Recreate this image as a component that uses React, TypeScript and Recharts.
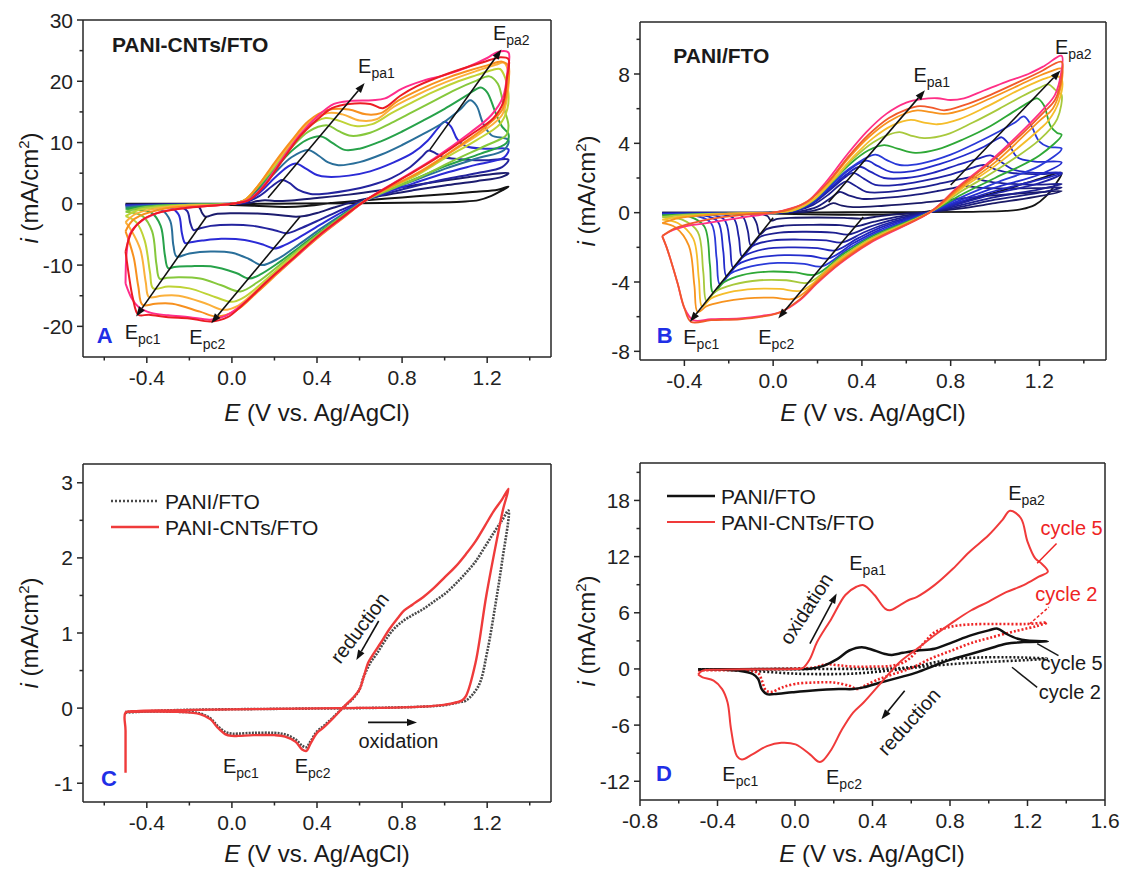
import React from 'react';
import { LineChart, Line, XAxis, YAxis, ReferenceLine, ReferenceDot } from 'recharts';

type P = [number, number];

const FONT = "'Liberation Sans', Arial, Helvetica, sans-serif";
const AXIS = '#262626';
const BLUE = '#1f2fe6';

// ---------------- Panel A : PANI-CNTs/FTO, successive cycles ----------------
const aCycle1: P[] = [
  [-0.5, 0], [-0.2, 0], [0, 0], [0.3, 0.05], [0.6, 0.1], [0.9, 0.2], [1.08, 0.35], [1.16, 0.6], [1.22, 1.3], [1.27, 2.2], [1.3, 2.8],
  [1.25, 2.3], [1.15, 1.95], [1.0, 1.55], [0.8, 1.05], [0.6, 0.5], [0.45, 0.05], [0.35, -0.35], [0.25, -0.5], [0.1, -0.3], [-0.1, -0.1], [-0.3, -0.02], [-0.5, 0],
];
const aCycle2: P[] = [
  [-0.5, -0.1], [-0.3, -0.05], [0, 0], [0.08, 0.15], [0.12, 0.45], [0.155, 0.6], [0.2, 0.45], [0.28, 0.55], [0.4, 0.95], [0.55, 1.5], [0.7, 2.2], [0.85, 3.0], [1.0, 3.8], [1.1, 4.3], [1.2, 4.75], [1.3, 5.0],
  [1.27, 4.4], [1.15, 3.7], [1.0, 3.0], [0.85, 2.2], [0.7, 1.3], [0.58, 0.4], [0.48, -0.6], [0.4, -1.5], [0.34, -2.0], [0.3, -2.1], [0.24, -1.9], [0.12, -1.6], [0, -1.55], [-0.08, -1.7], [-0.125, -2.1], [-0.14, -1.5], [-0.155, -0.5], [-0.2, -0.15], [-0.35, -0.1], [-0.5, -0.1],
];
const aCycle3: P[] = [
  [-0.5, -0.2], [-0.3, -0.1], [0, 0], [0.07, 0.3], [0.13, 1.3], [0.19, 2.9], [0.235, 3.9], [0.27, 3.4], [0.31, 2.3], [0.37, 1.6], [0.45, 1.7], [0.55, 2.2], [0.65, 3.0], [0.75, 4.2], [0.83, 5.8], [0.89, 7.6], [0.925, 8.7], [0.96, 8.2], [1.0, 7.6], [1.1, 7.2], [1.2, 7.1], [1.3, 7.2],
  [1.27, 6.0], [1.15, 5.0], [1.0, 4.0], [0.85, 2.8], [0.72, 1.6], [0.63, 0.6], [0.52, -0.9], [0.42, -2.5], [0.33, -3.9], [0.26, -4.8], [0.2, -4.3], [0.1, -3.6], [0, -3.4], [-0.1, -3.6], [-0.16, -4.1], [-0.18, -4.3], [-0.195, -3.2], [-0.21, -1.2], [-0.25, -0.4], [-0.35, -0.25], [-0.5, -0.2],
];
const aCycle4: P[] = [
  [-0.5, -0.3], [-0.3, -0.15], [0, 0], [0.07, 0.4], [0.13, 1.8], [0.2, 4.2], [0.26, 6.0], [0.3, 6.6], [0.35, 5.7], [0.4, 4.7], [0.45, 4.4], [0.55, 4.6], [0.65, 5.3], [0.75, 6.6], [0.85, 8.3], [0.92, 10.3], [0.97, 12.4], [1.0, 13.4], [1.03, 12.6], [1.06, 10.5], [1.1, 9.4], [1.2, 9.0], [1.3, 8.9],
  [1.28, 7.6], [1.15, 6.4], [1.0, 5.0], [0.85, 3.3], [0.72, 1.8], [0.63, 0.6], [0.52, -1.3], [0.42, -3.3], [0.32, -5.4], [0.25, -6.7], [0.2, -7.3], [0.15, -6.7], [0.06, -5.9], [-0.05, -5.7], [-0.14, -6.0], [-0.2, -6.3], [-0.22, -6.4], [-0.235, -4.8], [-0.25, -1.8], [-0.29, -0.6], [-0.38, -0.35], [-0.5, -0.3],
];
const aCycle5: P[] = [
  [-0.5, -0.5], [-0.35, -0.25], [0, 0], [0.06, 0.5], [0.12, 2.2], [0.2, 5.0], [0.28, 7.6], [0.358, 8.8], [0.41, 7.8], [0.45, 6.8], [0.5, 6.3], [0.6, 6.8], [0.7, 8.0], [0.8, 9.6], [0.9, 11.4], [1.0, 13.4], [1.07, 15.3], [1.12, 16.9], [1.15, 16.0], [1.18, 13.2], [1.22, 11.2], [1.3, 10.4],
  [1.28, 8.8], [1.15, 7.4], [1.0, 5.7], [0.85, 3.7], [0.72, 2.0], [0.63, 0.6], [0.52, -1.7], [0.42, -4.0], [0.32, -6.5], [0.22, -8.9], [0.14, -10.0], [0.08, -9.0], [0, -8.0], [-0.1, -7.8], [-0.2, -8.1], [-0.26, -8.6], [-0.275, -6.8], [-0.29, -2.8], [-0.33, -1.0], [-0.42, -0.6], [-0.5, -0.5],
];
const aCycle6: P[] = [
  [-0.5, -0.8], [-0.38, -0.35], [-0.1, -0.05], [0, 0], [0.06, 0.6], [0.12, 2.5], [0.2, 5.6], [0.28, 8.6], [0.35, 10.4], [0.42, 11.0], [0.47, 10.0], [0.53, 8.8], [0.6, 9.0], [0.7, 10.2], [0.8, 11.8], [0.9, 13.6], [1.0, 15.5], [1.1, 17.6], [1.17, 19.0], [1.2, 18.2], [1.24, 14.8], [1.27, 12.6], [1.3, 11.4],
  [1.29, 9.9], [1.17, 8.2], [1.0, 6.1], [0.85, 3.9], [0.72, 2.1], [0.63, 0.6], [0.52, -1.9], [0.42, -4.4], [0.32, -7.0], [0.22, -9.6], [0.13, -11.6], [0.08, -12.2], [0.02, -11.3], [-0.1, -10.2], [-0.2, -10.2], [-0.27, -10.3], [-0.3, -10.5], [-0.315, -8.4], [-0.335, -3.6], [-0.38, -1.4], [-0.45, -0.95], [-0.5, -0.8],
];
const aCycle7: P[] = [
  [-0.5, -1.3], [-0.42, -0.6], [-0.2, -0.15], [0, 0], [0.06, 0.6], [0.12, 2.7], [0.2, 5.9], [0.28, 9.2], [0.36, 11.8], [0.45, 12.8], [0.5, 11.9], [0.56, 11.1], [0.65, 11.6], [0.75, 13.2], [0.85, 15.0], [0.95, 16.8], [1.05, 18.6], [1.15, 20.1], [1.21, 20.8], [1.25, 19.6], [1.28, 15.5], [1.3, 12.8],
  [1.29, 11.2], [1.2, 9.6], [1.05, 7.2], [0.88, 4.3], [0.75, 2.4], [0.63, 0.6], [0.52, -2.0], [0.42, -4.6], [0.32, -7.3], [0.22, -10.1], [0.12, -12.8], [0.04, -14.3], [-0.05, -13.3], [-0.15, -12.2], [-0.25, -12.0], [-0.31, -12.1], [-0.34, -12.2], [-0.355, -9.8], [-0.375, -4.5], [-0.42, -2.0], [-0.5, -1.3],
];
const aCycle8: P[] = [
  [-0.5, -2.0], [-0.44, -1.0], [-0.25, -0.3], [0, 0], [0.06, 0.6], [0.12, 2.8], [0.2, 6.2], [0.28, 9.6], [0.36, 12.6], [0.44, 14.0], [0.5, 13.6], [0.58, 12.7], [0.66, 13.0], [0.75, 14.8], [0.85, 16.6], [0.95, 18.3], [1.05, 19.8], [1.15, 21.0], [1.22, 21.8], [1.26, 22.0], [1.285, 20.5], [1.3, 18.0],
  [1.295, 15.5], [1.26, 13.0], [1.15, 10.4], [1.0, 7.4], [0.85, 4.3], [0.72, 2.2], [0.63, 0.6], [0.52, -2.2], [0.42, -4.8], [0.32, -7.6], [0.22, -10.5], [0.12, -13.6], [0.05, -15.4], [0, -16.0], [-0.08, -15.2], [-0.2, -13.8], [-0.3, -13.5], [-0.37, -13.8], [-0.385, -11.2], [-0.41, -6.0], [-0.45, -3.0], [-0.5, -2.0],
];
const aCycle9: P[] = [
  [-0.5, -3.0], [-0.45, -1.6], [-0.3, -0.5], [0, 0], [0.06, 0.6], [0.12, 2.8], [0.2, 6.5], [0.28, 10.0], [0.36, 13.2], [0.45, 14.8], [0.52, 14.6], [0.6, 13.6], [0.68, 13.8], [0.76, 15.8], [0.86, 17.6], [0.96, 19.2], [1.06, 20.6], [1.16, 21.8], [1.24, 22.7], [1.28, 23.0], [1.3, 21.2],
  [1.295, 17.8], [1.27, 14.5], [1.18, 11.8], [1.0, 7.8], [0.85, 4.6], [0.72, 2.3], [0.63, 0.6], [0.52, -2.3], [0.42, -5.0], [0.32, -7.9], [0.22, -10.9], [0.12, -14.0], [0.03, -16.6], [-0.04, -17.3], [-0.12, -16.3], [-0.25, -15.0], [-0.33, -15.0], [-0.39, -15.2], [-0.405, -12.8], [-0.43, -7.5], [-0.47, -4.5], [-0.5, -3.0],
];
const aCycle10: P[] = [
  [-0.5, -4.5], [-0.46, -2.5], [-0.32, -0.8], [0, 0], [0.06, 0.6], [0.12, 2.8], [0.2, 6.7], [0.28, 10.3], [0.36, 13.5], [0.45, 15.3], [0.55, 15.4], [0.63, 14.6], [0.7, 14.8], [0.78, 16.8], [0.88, 18.6], [1.0, 20.4], [1.1, 21.6], [1.2, 22.6], [1.27, 23.2], [1.3, 22.5],
  [1.295, 18.8], [1.27, 15.3], [1.2, 12.8], [1.05, 9.0], [0.9, 5.5], [0.75, 2.8], [0.63, 0.6], [0.52, -2.4], [0.42, -5.1], [0.32, -8.1], [0.22, -11.2], [0.12, -14.4], [0.02, -17.4], [-0.07, -18.4], [-0.15, -17.6], [-0.28, -16.3], [-0.36, -16.3], [-0.42, -16.5], [-0.44, -13.5], [-0.46, -9.0], [-0.48, -6.5], [-0.5, -4.5],
];
const aCycle11: P[] = [
  [-0.5, -7.8], [-0.47, -4.5], [-0.42, -2.6], [-0.36, -1.6], [-0.23, -0.75], [0, 0], [0.08, 0.6], [0.15, 2.8], [0.24, 7.2], [0.32, 11.0], [0.4, 13.7], [0.47, 15.6], [0.55, 16.3], [0.65, 16.3], [0.71, 15.6], [0.79, 17.6], [0.87, 19.2], [1.02, 21.3], [1.18, 23.1], [1.26, 23.9], [1.3, 23.6],
  [1.293, 20.5], [1.275, 16.5], [1.23, 14.0], [1.12, 11.2], [0.95, 7.2], [0.79, 3.9], [0.63, 0.6], [0.5, -2.7], [0.4, -5.4], [0.3, -8.5], [0.18, -12.2], [0.05, -16.5], [-0.02, -18.5], [-0.1, -19.2], [-0.2, -18.7], [-0.3, -18.5], [-0.39, -18.1], [-0.44, -18.1], [-0.465, -15.5], [-0.485, -11.5], [-0.5, -7.8],
];
const aCycle12: P[] = [
  [-0.5, -13.0], [-0.495, -8.0], [-0.48, -5.0], [-0.44, -3.2], [-0.35, -1.5], [-0.2, -0.6], [0, 0], [0.08, 0.7], [0.15, 3.0], [0.24, 7.5], [0.32, 11.3], [0.4, 14.2], [0.48, 16.3], [0.56, 16.8], [0.66, 16.9], [0.72, 17.2], [0.8, 18.8], [0.9, 20.1], [1.0, 21.0], [1.1, 22.2], [1.2, 23.8], [1.25, 24.8], [1.3, 24.7],
  [1.295, 21.5], [1.275, 17.5], [1.22, 14.5], [1.12, 11.6], [0.95, 7.4], [0.79, 4.0], [0.63, 0.6], [0.5, -2.8], [0.4, -5.5], [0.3, -8.6], [0.18, -12.2], [0.05, -16.4], [-0.03, -18.3], [-0.1, -18.9], [-0.2, -18.5], [-0.3, -18.2], [-0.38, -17.8], [-0.44, -16.8], [-0.47, -15.5], [-0.5, -13.0],
];
const aSeries: P[][] = [aCycle1, aCycle2, aCycle3, aCycle4, aCycle5, aCycle6, aCycle7, aCycle8, aCycle9, aCycle10, aCycle12, aCycle11];
const aColors = ['#141414', '#1c1c6e', '#24249e', '#2b2bd6', '#2a6f9a', '#27a24a', '#86c83c', '#bfd336', '#fbb03b', '#f7901e', '#ff2d8c', '#ec1c24'];

// ---------------- Panel B : PANI/FTO, successive cycles ----------------
const bCycle1: P[] = [
  [-0.5, 0], [-0.2, 0], [0.2, 0.02], [0.6, 0.03], [0.9, 0.05], [1.05, 0.1], [1.12, 0.2], [1.18, 0.45], [1.23, 0.95], [1.27, 1.6], [1.3, 2.3],
  [1.2, 1.95], [1.1, 1.55], [1.0, 1.15], [0.9, 0.8], [0.8, 0.45], [0.71, 0.1], [0.6, -0.05], [0.45, -0.12], [0.3, -0.12], [0.1, -0.08], [-0.1, -0.03], [-0.5, 0],
];
const bCycle2: P[] = [
  [-0.5, 0], [-0.2, 0], [0, 0], [0.15, 0.05], [0.22, 0.25], [0.27, 0.55], [0.31, 0.4], [0.36, 0.32], [0.5, 0.4], [0.65, 0.55], [0.8, 0.75], [0.95, 0.95], [1.1, 1.1], [1.2, 1.18], [1.3, 1.25],
  [1.2, 0.95], [1.0, 0.55], [0.85, 0.25], [0.71, 0.05], [0.555, -0.1], [0.4775, -0.21], [0.4, -0.34], [0.32, -0.3], [0.2, -0.28], [0.08, -0.3], [0.02, -0.36], [-0.01, -0.46], [-0.025, -0.2], [-0.06, -0.05], [-0.2, -0.01], [-0.5, 0],
];
const bCycle3: P[] = [
  [-0.5, -0.02], [-0.2, -0.01], [0, 0], [0.12, 0.08], [0.2, 0.35], [0.26, 0.85], [0.3, 1.2], [0.34, 1.0], [0.4, 0.8], [0.5, 0.85], [0.62, 1.0], [0.74, 1.25], [0.82, 1.45], [0.86, 1.55], [0.92, 1.45], [1.05, 1.4], [1.2, 1.42], [1.3, 1.45],
  [1.2, 1.15], [1.0, 0.75], [0.85, 0.35], [0.71, 0.05], [0.54, -0.28], [0.455, -0.52], [0.37, -0.8], [0.3, -0.72], [0.18, -0.7], [0.05, -0.75], [-0.03, -0.95], [-0.06, -1.26], [-0.075, -0.6], [-0.1, -0.12], [-0.2, -0.03], [-0.5, -0.02],
];
const bCycle4: P[] = [
  [-0.5, -0.04], [-0.25, -0.02], [0, 0], [0.1, 0.1], [0.18, 0.45], [0.25, 1.05], [0.3, 1.6], [0.33, 1.8], [0.37, 1.55], [0.42, 1.2], [0.52, 1.2], [0.64, 1.4], [0.76, 1.7], [0.85, 1.95], [0.9, 2.05], [0.95, 1.85], [1.05, 1.68], [1.2, 1.62], [1.3, 1.65],
  [1.2, 1.35], [1.0, 0.9], [0.85, 0.45], [0.71, 0.05], [0.525, -0.46], [0.4325, -0.82], [0.34, -1.26], [0.27, -1.15], [0.15, -1.1], [0.03, -1.15], [-0.06, -1.4], [-0.1, -1.9], [-0.115, -1.0], [-0.14, -0.2], [-0.25, -0.05], [-0.5, -0.04],
];
const bCycle5: P[] = [
  [-0.5, -0.06], [-0.25, -0.03], [0, 0], [0.1, 0.12], [0.18, 0.55], [0.26, 1.35], [0.32, 2.0], [0.36, 2.3], [0.41, 1.95], [0.46, 1.6], [0.56, 1.6], [0.68, 1.85], [0.8, 2.2], [0.9, 2.6], [0.95, 2.75], [1.0, 2.5], [1.07, 2.3], [1.2, 2.22], [1.3, 2.25],
  [1.2, 1.7], [1.0, 1.1], [0.85, 0.55], [0.71, 0.05], [0.51, -0.64], [0.41, -1.13], [0.31, -1.72], [0.24, -1.6], [0.12, -1.55], [0, -1.6], [-0.09, -1.9], [-0.14, -2.54], [-0.155, -1.4], [-0.18, -0.3], [-0.28, -0.08], [-0.5, -0.06],
];
const bCycle6: P[] = [
  [-0.5, -0.07], [-0.28, -0.04], [0, 0], [0.1, 0.13], [0.18, 0.6], [0.26, 1.45], [0.33, 2.2], [0.39, 2.65], [0.44, 2.35], [0.5, 2.0], [0.6, 2.0], [0.72, 2.3], [0.83, 2.75], [0.92, 3.1], [0.98, 3.3], [1.02, 3.0], [1.08, 2.5], [1.18, 2.3], [1.3, 2.3],
  [1.2, 1.9], [1.0, 1.25], [0.85, 0.65], [0.71, 0.05], [0.495, -0.81], [0.3875, -1.44], [0.28, -2.18], [0.2, -2.05], [0.08, -2.0], [-0.04, -2.1], [-0.13, -2.5], [-0.18, -3.18], [-0.195, -1.8], [-0.22, -0.4], [-0.3, -0.1], [-0.5, -0.07],
];
const bCycle7: P[] = [
  [-0.5, -0.08], [-0.3, -0.05], [0, 0], [0.1, 0.14], [0.18, 0.63], [0.26, 1.55], [0.34, 2.45], [0.42, 3.0], [0.47, 2.7], [0.53, 2.35], [0.63, 2.4], [0.75, 2.8], [0.86, 3.3], [0.95, 3.8], [1.01, 4.25], [1.03, 4.35], [1.06, 4.0], [1.1, 3.2], [1.18, 2.95], [1.3, 2.9],
  [1.2, 2.2], [1.0, 1.45], [0.85, 0.75], [0.71, 0.05], [0.48, -0.99], [0.365, -1.74], [0.25, -2.64], [0.17, -2.5], [0.05, -2.45], [-0.07, -2.6], [-0.16, -3.0], [-0.21, -3.66], [-0.225, -2.2], [-0.25, -0.5], [-0.33, -0.12], [-0.5, -0.08],
];
const bCycle8: P[] = [
  [-0.5, -0.1], [-0.32, -0.06], [0, 0], [0.1, 0.15], [0.18, 0.66], [0.26, 1.6], [0.35, 2.6], [0.46, 3.35], [0.51, 3.05], [0.57, 2.75], [0.67, 2.85], [0.8, 3.35], [0.92, 4.05], [1.02, 4.7], [1.09, 5.2], [1.13, 5.55], [1.16, 5.1], [1.2, 4.1], [1.24, 3.8], [1.3, 3.7],
  [1.2, 2.7], [1.0, 1.7], [0.85, 0.9], [0.71, 0.05], [0.465, -1.17], [0.3425, -2.05], [0.22, -3.1], [0.14, -2.95], [0.02, -2.9], [-0.1, -3.1], [-0.19, -3.5], [-0.24, -4.14], [-0.255, -2.6], [-0.28, -0.6], [-0.36, -0.15], [-0.5, -0.1],
];
const bCycle9: P[] = [
  [-0.5, -0.15], [-0.35, -0.08], [0, 0], [0.1, 0.16], [0.18, 0.7], [0.26, 1.7], [0.35, 2.85], [0.43, 3.6], [0.5, 3.9], [0.56, 3.7], [0.64, 3.45], [0.74, 3.65], [0.86, 4.25], [0.98, 5.0], [1.08, 5.8], [1.15, 6.35], [1.19, 6.6], [1.22, 6.2], [1.25, 5.0], [1.28, 4.6], [1.3, 4.5],
  [1.2, 3.3], [1.0, 2.0], [0.85, 1.05], [0.71, 0.05], [0.45, -1.35], [0.32, -2.36], [0.19, -3.57], [0.1, -3.45], [-0.02, -3.4], [-0.14, -3.6], [-0.22, -4.0], [-0.27, -4.62], [-0.285, -3.0], [-0.31, -0.8], [-0.38, -0.22], [-0.5, -0.15],
];
const bCycle10: P[] = [
  [-0.5, -0.25], [-0.38, -0.12], [-0.1, -0.02], [0, 0], [0.1, 0.17], [0.18, 0.72], [0.27, 1.85], [0.36, 3.1], [0.45, 4.05], [0.52, 4.5], [0.57, 4.65], [0.62, 4.45], [0.68, 4.3], [0.78, 4.5], [0.9, 5.2], [1.02, 6.0], [1.12, 6.7], [1.2, 7.2], [1.24, 7.4], [1.27, 7.1], [1.29, 6.9], [1.3, 6.8],
  [1.28, 5.4], [1.2, 4.2], [1.0, 2.4], [0.85, 1.25], [0.71, 0.05], [0.435, -1.53], [0.2975, -2.67], [0.16, -4.03], [0.06, -3.9], [-0.06, -3.9], [-0.18, -4.15], [-0.26, -4.55], [-0.3, -5.1], [-0.315, -3.4], [-0.34, -1.1], [-0.41, -0.4], [-0.5, -0.25],
];
const bCycle11: P[] = [
  [-0.5, -0.4], [-0.4, -0.2], [-0.15, -0.04], [0, 0], [0.1, 0.18], [0.18, 0.74], [0.27, 1.9], [0.36, 3.2], [0.45, 4.3], [0.54, 5.05], [0.62, 5.35], [0.68, 5.2], [0.74, 5.1], [0.84, 5.4], [0.96, 6.1], [1.08, 6.9], [1.18, 7.5], [1.24, 7.8], [1.27, 7.9], [1.3, 7.7],
  [1.29, 6.5], [1.24, 5.3], [1.2, 4.8], [1.0, 2.7], [0.85, 1.4], [0.71, 0.05], [0.42, -1.71], [0.275, -2.97], [0.13, -4.49], [0.03, -4.4], [-0.08, -4.4], [-0.2, -4.6], [-0.28, -4.95], [-0.32, -5.42], [-0.335, -3.8], [-0.36, -1.5], [-0.43, -0.6], [-0.5, -0.4],
];
const bCycle12: P[] = [
  [-0.5, -0.6], [-0.42, -0.3], [-0.2, -0.06], [0, 0], [0.08, 0.2], [0.16, 0.7], [0.25, 1.75], [0.34, 3.15], [0.43, 4.35], [0.52, 5.25], [0.6, 5.75], [0.65, 5.9], [0.71, 5.8], [0.77, 5.7], [0.86, 5.95], [0.98, 6.6], [1.1, 7.3], [1.2, 7.9], [1.26, 8.2], [1.3, 8.3],
  [1.295, 7.2], [1.26, 6.0], [1.2, 5.3], [1.0, 2.9], [0.85, 1.5], [0.71, 0.05], [0.405, -1.89], [0.2525, -3.28], [0.1, -4.95], [0, -4.9], [-0.12, -4.95], [-0.23, -5.15], [-0.3, -5.4], [-0.34, -5.74], [-0.355, -4.2], [-0.38, -1.9], [-0.44, -0.85], [-0.5, -0.6],
];
const bCycle13: P[] = [
  [-0.5, -1.35], [-0.45, -0.95], [-0.38, -0.65], [-0.25, -0.3], [-0.1, -0.08], [0, 0], [0.08, 0.22], [0.16, 0.68], [0.25, 1.8], [0.34, 3.25], [0.43, 4.5], [0.52, 5.45], [0.6, 5.95], [0.66, 6.15], [0.72, 6.05], [0.77, 5.9], [0.86, 6.2], [0.98, 6.8], [1.1, 7.5], [1.2, 8.1], [1.3, 8.7],
  [1.297, 7.6], [1.27, 6.5], [1.22, 5.8], [1.13, 4.65], [0.98, 2.9], [0.83, 1.4], [0.71, 0.05], [0.45, -1.6], [0.3, -2.9], [0.2, -4.0], [0.12, -5.0], [0.03, -5.75], [-0.05, -6.0], [-0.15, -6.15], [-0.28, -6.2], [-0.37, -6.3], [-0.4, -5.5], [-0.43, -4.1], [-0.46, -2.8], [-0.48, -2.0], [-0.5, -1.35],
];
const bCycle14: P[] = [
  [-0.5, -1.35], [-0.45, -1.0], [-0.38, -0.75], [-0.3, -0.6], [-0.15, -0.3], [0, 0], [0.08, 0.25], [0.15, 0.6], [0.24, 1.8], [0.33, 3.3], [0.42, 4.65], [0.51, 5.7], [0.6, 6.35], [0.67, 6.55], [0.74, 6.6], [0.8, 6.5], [0.86, 6.6], [0.95, 7.05], [1.05, 7.55], [1.15, 8.0], [1.22, 8.45], [1.3, 9.05],
  [1.297, 8.0], [1.27, 6.8], [1.22, 6.0], [1.13, 4.8], [0.98, 3.0], [0.83, 1.45], [0.71, 0.05], [0.45, -1.65], [0.3, -2.95], [0.2, -4.05], [0.12, -5.05], [0.03, -5.75], [-0.05, -5.95], [-0.15, -6.1], [-0.28, -6.15], [-0.36, -6.2], [-0.4, -5.5], [-0.43, -4.1], [-0.46, -2.8], [-0.48, -2.0], [-0.5, -1.35],
];
const bSeries: P[][] = [bCycle1, bCycle2, bCycle3, bCycle4, bCycle5, bCycle6, bCycle7, bCycle8, bCycle9, bCycle10, bCycle11, bCycle12, bCycle14, bCycle13];
const bColors = ['#141414', '#1a1a66', '#1b1c7c', '#1d1f90', '#1f22a6', '#2126bc', '#232ccc', '#2a3ad8', '#2ea836', '#a8c93c', '#f5bd2a', '#f7931e', '#ff2f86', '#f1592a'];

// ---------------- Panel C : first cycle comparison ----------------
const cPani: P[] = [
  [-0.5, -0.06], [-0.3, -0.03], [0.2, -0.01], [0.6, 0], [0.9, 0.02], [1.0, 0.04], [1.07, 0.08], [1.1, 0.1], [1.16, 0.3], [1.2, 0.75], [1.24, 1.4], [1.27, 1.95], [1.3, 2.63],
  [1.27, 2.5], [1.23, 2.33], [1.19, 2.15], [1.145, 1.95], [1.1, 1.8], [1.05, 1.65], [1.0, 1.52], [0.95, 1.42], [0.9, 1.32], [0.85, 1.24], [0.8, 1.15], [0.76, 1.05], [0.72, 0.9], [0.68, 0.72], [0.65, 0.6], [0.62, 0.42], [0.6, 0.25], [0.57, 0.13], [0.52, 0], [0.47, -0.14], [0.43, -0.24], [0.4, -0.31], [0.37, -0.44], [0.35, -0.52], [0.33, -0.5], [0.3, -0.42], [0.25, -0.35], [0.2, -0.33], [0.1, -0.33], [0.03, -0.34], [0, -0.34], [-0.03, -0.32], [-0.07, -0.23], [-0.1, -0.14], [-0.15, -0.07], [-0.25, -0.05], [-0.4, -0.045], [-0.5, -0.05],
];
const cPaniCnt: P[] = [
  [-0.5, -0.86], [-0.5, -0.3], [-0.5, -0.06], [-0.45, -0.04], [-0.3, -0.03], [-0.1, -0.02], [0.2, -0.01], [0.5, 0], [0.8, 0.01], [0.95, 0.03], [1.03, 0.06], [1.08, 0.1], [1.1, 0.16], [1.145, 0.6], [1.196, 1.5], [1.246, 2.25], [1.275, 2.65], [1.3, 2.92],
  [1.27, 2.78], [1.23, 2.62], [1.19, 2.43], [1.145, 2.22], [1.1, 2.05], [1.05, 1.88], [1.0, 1.74], [0.95, 1.6], [0.9, 1.48], [0.85, 1.38], [0.81, 1.3], [0.78, 1.2], [0.74, 1.05], [0.7, 0.87], [0.66, 0.7], [0.64, 0.6], [0.62, 0.42], [0.6, 0.25], [0.57, 0.14], [0.52, 0], [0.47, -0.15], [0.43, -0.26], [0.4, -0.33], [0.37, -0.47], [0.35, -0.57], [0.33, -0.55], [0.3, -0.45], [0.25, -0.38], [0.2, -0.36], [0.1, -0.36], [0.03, -0.37], [0, -0.37], [-0.03, -0.35], [-0.07, -0.25], [-0.1, -0.15], [-0.15, -0.08], [-0.25, -0.05], [-0.4, -0.045], [-0.5, -0.05],
];

// ---------------- Panel D : cycle 2 and cycle 5 ----------------
const dPaniCycle2: P[] = [
  [-0.5, -0.05], [-0.2, -0.03], [0.2, 0], [0.5, 0.05], [0.62, 0.25], [0.72, 0.7], [0.82, 1.05], [0.95, 1.22], [1.1, 1.25], [1.2, 1.2], [1.3, 1.1],
  [1.2, 0.95], [1.0, 0.75], [0.8, 0.5], [0.62, 0.15], [0.45, -0.25], [0.3, -0.5], [0.15, -0.55], [0, -0.5], [-0.15, -0.3], [-0.3, -0.1], [-0.5, -0.05],
];
const dPaniCycle5: P[] = [
  [-0.5, -0.07], [-0.3, -0.03], [0, 0], [0.077, 0.02], [0.15, 0.36], [0.22, 1.07], [0.28, 1.97], [0.345, 2.33], [0.41, 1.97], [0.465, 1.6], [0.5, 1.5], [0.557, 1.72], [0.63, 1.97], [0.72, 2.15], [0.815, 2.87], [0.907, 3.58], [1.0, 4.12], [1.046, 4.3], [1.09, 3.76], [1.15, 3.22], [1.2, 3.04], [1.305, 2.94],
  [1.18, 2.87], [1.09, 2.69], [1.0, 2.15], [0.907, 1.6], [0.815, 1.07], [0.72, 0.36], [0.63, -0.36], [0.54, -0.9], [0.446, -1.43], [0.354, -1.97], [0.3, -2.15], [0.225, -2.15], [0.077, -2.33], [-0.015, -2.5], [-0.108, -2.69], [-0.145, -2.69], [-0.172, -2.15], [-0.19, -1.07], [-0.218, -0.54], [-0.29, -0.18], [-0.38, -0.07], [-0.5, -0.07],
];
const dCntCycle2: P[] = [
  [-0.5, -0.15], [-0.3, -0.05], [0, 0.05], [0.1, 0.15], [0.16, 0.5], [0.22, 0.4], [0.3, 0.25], [0.4, 0.25], [0.5, 0.35], [0.57, 0.8], [0.62, 1.7], [0.67, 2.9], [0.72, 3.9], [0.8, 4.5], [0.9, 4.75], [1.05, 4.8], [1.2, 4.8], [1.3, 4.95],
  [1.25, 4.6], [1.15, 4.1], [1.0, 3.3], [0.9, 2.7], [0.8, 1.9], [0.7, 1.1], [0.6, 0.1], [0.5, -0.6], [0.42, -1.2], [0.36, -1.8], [0.32, -2.15], [0.28, -1.8], [0.2, -1.45], [0.1, -1.45], [0, -1.6], [-0.07, -2.0], [-0.12, -2.45], [-0.15, -2.3], [-0.17, -1.3], [-0.19, -0.45], [-0.25, -0.2], [-0.5, -0.15],
];
const dCntCycle5: P[] = [
  [-0.5, -0.6], [-0.48, -0.2], [-0.4, -0.08], [-0.2, -0.03], [0, 0], [0.04, 0.1], [0.077, 1.07], [0.114, 2.87], [0.188, 5.37], [0.26, 7.9], [0.317, 8.78], [0.354, 8.95], [0.41, 7.9], [0.465, 6.45], [0.49, 6.27], [0.54, 6.8], [0.585, 7.34], [0.63, 7.7], [0.72, 8.95], [0.815, 10.7], [0.9, 12.5], [1.0, 14.3], [1.07, 15.9], [1.11, 16.9], [1.166, 16.1], [1.2, 13.6], [1.24, 11.8], [1.27, 11.3], [1.305, 10.4],
  [1.258, 9.85], [1.18, 8.95], [1.09, 8.2], [1.0, 7.2], [0.91, 6.27], [0.815, 5.0], [0.72, 3.6], [0.63, 2.15], [0.54, 0.72], [0.446, -1.43], [0.354, -3.58], [0.3, -4.66], [0.243, -6.45], [0.188, -8.6], [0.14, -9.85], [0.123, -9.92], [0.077, -9.13], [0.003, -8.06], [-0.07, -7.88], [-0.145, -8.24], [-0.22, -9.13], [-0.274, -9.67], [-0.3, -9.3], [-0.33, -6.45], [-0.348, -3.58], [-0.376, -2.15], [-0.42, -1.25], [-0.477, -0.9], [-0.5, -0.6],
];

// ---------------- ticks ----------------
const xTicksAC = [-0.6, -0.4, -0.2, 0, 0.2, 0.4, 0.6, 0.8, 1.0, 1.2, 1.4];
const xTicksB = [-0.4, -0.2, 0, 0.2, 0.4, 0.6, 0.8, 1.0, 1.2, 1.4];
const xMajorABC = [-0.4, 0, 0.4, 0.8, 1.2];
const xTicksD = [-0.8, -0.6, -0.4, -0.2, 0, 0.2, 0.4, 0.6, 0.8, 1.0, 1.2, 1.4, 1.6];
const xMajorD = [-0.8, -0.4, 0, 0.4, 0.8, 1.2, 1.6];
const yTicksA = [-20, -15, -10, -5, 0, 5, 10, 15, 20, 25, 30];
const yMajorA = [-20, -10, 0, 10, 20, 30];
const yTicksB = [-8, -6, -4, -2, 0, 2, 4, 6, 8, 10];
const yMajorB = [-8, -4, 0, 4, 8];
const yTicksC = [-1, -0.5, 0, 0.5, 1, 1.5, 2, 2.5, 3];
const yMajorC = [-1, 0, 1, 2, 3];
const yTicksD = [-12, -9, -6, -3, 0, 3, 6, 9, 12, 15, 18, 21];
const yMajorD = [-12, -6, 0, 6, 12, 18];

// ---------------- helpers ----------------
const toRows = (pts: P[]) => pts.map(([x, y]) => ({ x, y }));
const isIn = (v: number, arr: number[]) => arr.some((m) => Math.abs(m - v) < 1e-6);

// centripetal Catmull-Rom curve (smooth, passes through every data point)
function catmull(context: any) {
  let pts: number[][] = [];
  return {
    areaStart() {},
    areaEnd() {},
    lineStart() { pts = []; },
    point(x: number, y: number) { pts.push([+x, +y]); },
    lineEnd() {
      const n = pts.length;
      if (!n) return;
      context.moveTo(pts[0][0], pts[0][1]);
      for (let i = 0; i < n - 1; i++) {
        const p0 = pts[i > 0 ? i - 1 : i];
        const p1 = pts[i];
        const p2 = pts[i + 1];
        const p3 = pts[i + 2 < n ? i + 2 : i + 1];
        const d01 = Math.sqrt(Math.hypot(p1[0] - p0[0], p1[1] - p0[1]));
        const d12 = Math.sqrt(Math.hypot(p2[0] - p1[0], p2[1] - p1[1]));
        const d23 = Math.sqrt(Math.hypot(p3[0] - p2[0], p3[1] - p2[1]));
        let c1x = p1[0], c1y = p1[1], c2x = p2[0], c2y = p2[1];
        if (d01 > 1e-6) {
          const a = 2 * d01 * d01 + 3 * d01 * d12 + d12 * d12;
          const m = 3 * d01 * (d01 + d12);
          c1x = (p1[0] * a - p0[0] * d12 * d12 + p2[0] * d01 * d01) / m;
          c1y = (p1[1] * a - p0[1] * d12 * d12 + p2[1] * d01 * d01) / m;
        }
        if (d23 > 1e-6) {
          const b = 2 * d23 * d23 + 3 * d23 * d12 + d12 * d12;
          const m = 3 * d23 * (d23 + d12);
          c2x = (p2[0] * b + p1[0] * d23 * d23 - p3[0] * d12 * d12) / m;
          c2y = (p2[1] * b + p1[1] * d23 * d23 - p3[1] * d12 * d12) / m;
        }
        context.bezierCurveTo(c1x, c1y, c2x, c2y, p2[0], p2[1]);
      }
    },
  };
}

const makeXTick = (majors: number[]) => (props: any) => {
  const { x, y, payload } = props;
  const v = payload.value as number;
  const major = isIn(v, majors);
  return (
    <g>
      <line x1={x} x2={x} y1={y} y2={y + (major ? 6 : 3.5)} stroke={AXIS} strokeWidth={1.5} />
      {major && (
        <text x={x} y={y + 28} textAnchor="middle" fontSize={21} fontFamily={FONT} fill="#222">
          {Math.abs(v) < 1e-9 ? '0.0' : v.toFixed(1)}
        </text>
      )}
    </g>
  );
};
const makeYTick = (majors: number[]) => (props: any) => {
  const { x, y, payload } = props;
  const v = payload.value as number;
  const major = isIn(v, majors);
  return (
    <g>
      <line x1={x - (major ? 6 : 3.5)} x2={x} y1={y} y2={y} stroke={AXIS} strokeWidth={1.5} />
      {major && (
        <text x={x - 10} y={y + 7.5} textAnchor="end" fontSize={21} fontFamily={FONT} fill="#222">
          {String(v)}
        </text>
      )}
    </g>
  );
};

const xTickABC = makeXTick(xMajorABC);
const xTickD = makeXTick(xMajorD);
const yTickA = makeYTick(yMajorA);
const yTickB = makeYTick(yMajorB);
const yTickC = makeYTick(yMajorC);
const yTickD = makeYTick(yMajorD);

const arrowShape = (props: any) => {
  const { x1, y1, x2, y2 } = props;
  if ([x1, y1, x2, y2].some((v) => v == null || Number.isNaN(+v))) return <g />;
  const ang = Math.atan2(y2 - y1, x2 - x1);
  const L = 10;
  const W = 3.6;
  const bx = x2 - L * Math.cos(ang);
  const by = y2 - L * Math.sin(ang);
  const nx = -Math.sin(ang);
  const ny = Math.cos(ang);
  return (
    <g>
      <line x1={x1} y1={y1} x2={bx} y2={by} stroke="#111" strokeWidth={1.6} />
      <polygon points={`${x2},${y2} ${bx + nx * W},${by + ny * W} ${bx - nx * W},${by - ny * W}`} fill="#111" />
    </g>
  );
};

const arrow = (key: string, x1: number, y1: number, x2: number, y2: number) => (
  <ReferenceLine key={key} segment={[{ x: x1, y: y1 }, { x: x2, y: y2 }]} ifOverflow="visible" shape={arrowShape} />
);
const leader = (key: string, x1: number, y1: number, x2: number, y2: number, color: string, dash?: string) => (
  <ReferenceLine key={key} segment={[{ x: x1, y: y1 }, { x: x2, y: y2 }]} ifOverflow="visible" stroke={color} strokeWidth={1.5} strokeDasharray={dash} />
);
const textAt = (key: string, x: number, y: number, render: (cx: number, cy: number) => React.ReactElement) => (
  <ReferenceDot key={key} x={x} y={y} r={1} ifOverflow="visible" fill="none" stroke="none" shape={(p: any) => render(p.cx, p.cy)} />
);
const eLabel = (key: string, x: number, y: number, sub: string) =>
  textAt(key, x, y, (cx, cy) => (
    <text x={cx} y={cy} fontFamily={FONT} fontSize={20} fill="#1a1a1a">
      <tspan>E</tspan>
      <tspan fontSize={14} dy={5}>{sub}</tspan>
    </text>
  ));
const plainLabel = (key: string, x: number, y: number, s: string, opts: any = {}) =>
  textAt(key, x, y, (cx, cy) => (
    <text
      x={cx}
      y={cy}
      fontFamily={FONT}
      fontSize={opts.size ?? 20}
      fontWeight={opts.bold ? 700 : 400}
      fill={opts.color ?? '#1a1a1a'}
      textAnchor={opts.anchor ?? 'start'}
      dominantBaseline={opts.rotate != null ? 'central' : undefined}
      transform={opts.rotate != null ? `rotate(${opts.rotate} ${cx} ${cy})` : undefined}
    >
      {s}
    </text>
  ));

const frameLine = { stroke: AXIS, strokeWidth: 1.5 };

const renderSeries = (series: P[][], colors: string[], prefix: string, width: number) =>
  series.map((pts, i) => (
    <Line
      key={`${prefix}${i}`}
      data={toRows(pts)}
      dataKey="y"
      type={catmull as any}
      stroke={colors[i]}
      strokeWidth={width}
      dot={false}
      activeDot={false}
      isAnimationActive={false}
    />
  ));

// ---------------- HTML titles ----------------
const XTitle = ({ cx, cy }: { cx: number; cy: number }) => (
  <div style={{ position: 'absolute', left: cx, top: cy, transform: 'translate(-50%, -50%)', fontSize: 24, lineHeight: '24px', fontFamily: FONT, color: '#1a1a1a', whiteSpace: 'nowrap' }}>
    <i>E</i> (V vs. Ag/AgCl)
  </div>
);
const YTitle = ({ cx, cy }: { cx: number; cy: number }) => (
  <div style={{ position: 'absolute', left: cx, top: cy, transform: 'translate(-50%, -50%) rotate(-90deg)', fontSize: 24, lineHeight: '24px', fontFamily: FONT, color: '#1a1a1a', whiteSpace: 'nowrap' }}>
    <i>i</i> (mA/cm<sup style={{ fontSize: 15, lineHeight: 0 }}>2</sup>)
  </div>
);
const LegendRow = ({ x, y, text, color, dash, width }: { x: number; y: number; text: string; color: string; dash?: string; width: number }) => (
  <>
    <svg style={{ position: 'absolute', left: x, top: y - 5 }} width={48} height={10}>
      <line x1={0} y1={5} x2={48} y2={5} stroke={color} strokeWidth={width} strokeDasharray={dash} />
    </svg>
    <div style={{ position: 'absolute', left: x + 54, top: y, transform: 'translateY(-50%)', fontSize: 21, lineHeight: '21px', fontFamily: FONT, color: '#1a1a1a', whiteSpace: 'nowrap' }}>
      {text}
    </div>
  </>
);

function PanelA() {
  return (
    <LineChart width={560} height={435} margin={{ top: 20, right: 9, bottom: 38, left: 23 }}>
      <XAxis type="number" dataKey="x" domain={[-0.7, 1.5]} ticks={xTicksAC} interval={0} tickSize={0} tickMargin={0} tickLine={false} tick={xTickABC} axisLine={frameLine} height={40} allowDataOverflow />
      <YAxis type="number" domain={[-25, 30]} ticks={yTicksA} interval={0} tickSize={0} tickMargin={0} tickLine={false} tick={yTickA} axisLine={frameLine} width={60} allowDataOverflow />
      <ReferenceLine y={30} ifOverflow="visible" {...frameLine} />
      <ReferenceLine x={1.5} ifOverflow="visible" {...frameLine} />
      {renderSeries(aSeries, aColors, 'a', 2)}
      {arrow('a-pa1', 0.17, 1.0, 0.624, 19.7)}
      {arrow('a-pa2', 0.93, 8.8, 1.267, 25.2)}
      {arrow('a-pc1', -0.12, -2.1, -0.45, -18.4)}
      {arrow('a-pc2', 0.32, -2.1, -0.097, -19.5)}
      {plainLabel('a-title', -0.564, 24.8, 'PANI-CNTs/FTO', { bold: true, size: 21 })}
      {eLabel('a-l1', 0.593, 21.3, 'pa1')}
      {eLabel('a-l2', 1.227, 26.7, 'pa2')}
      {eLabel('a-l3', -0.504, -22.0, 'pc1')}
      {eLabel('a-l4', -0.2, -22.8, 'pc2')}
      {plainLabel('a-letter', -0.635, -22.7, 'A', { bold: true, size: 22, color: BLUE })}
    </LineChart>
  );
}

function PanelB() {
  return (
    <LineChart width={561} height={435} margin={{ top: 22, right: 15, bottom: 35, left: 20 }}>
      <XAxis type="number" dataKey="x" domain={[-0.6, 1.5]} ticks={xTicksB} interval={0} tickSize={0} tickMargin={0} tickLine={false} tick={xTickABC} axisLine={frameLine} height={40} allowDataOverflow />
      <YAxis type="number" domain={[-8.5, 11]} ticks={yTicksB} interval={0} tickSize={0} tickMargin={0} tickLine={false} tick={yTickB} axisLine={frameLine} width={60} allowDataOverflow />
      <ReferenceLine y={11} ifOverflow="visible" {...frameLine} />
      <ReferenceLine x={1.5} ifOverflow="visible" {...frameLine} />
      {renderSeries(bSeries, bColors, 'b', 1.8)}
      {arrow('b-pa1', 0.25, 0.6, 0.684, 7.06)}
      {arrow('b-pa2', 0.8, 1.6, 1.295, 8.2)}
      {arrow('b-pc1', 0.0, -0.3, -0.375, -6.3)}
      {arrow('b-pc2', 0.406, -0.25, 0.023, -6.1)}
      {plainLabel('b-title', -0.45, 8.65, 'PANI/FTO', { bold: true, size: 21 })}
      {eLabel('b-l1', 0.632, 7.54, 'pa1')}
      {eLabel('b-l2', 1.27, 9.17, 'pa2')}
      {eLabel('b-l3', -0.405, -7.56, 'pc1')}
      {eLabel('b-l4', -0.067, -7.56, 'pc2')}
      {plainLabel('b-letter', -0.525, -7.5, 'B', { bold: true, size: 22, color: BLUE })}
    </LineChart>
  );
}

function PanelC() {
  return (
    <LineChart width={560} height={435} margin={{ top: 29, right: 9, bottom: 28, left: 23 }}>
      <XAxis type="number" dataKey="x" domain={[-0.7, 1.5]} ticks={xTicksAC} interval={0} tickSize={0} tickMargin={0} tickLine={false} tick={xTickABC} axisLine={frameLine} height={40} allowDataOverflow />
      <YAxis type="number" domain={[-1.25, 3.25]} ticks={yTicksC} interval={0} tickSize={0} tickMargin={0} tickLine={false} tick={yTickC} axisLine={frameLine} width={60} allowDataOverflow />
      <ReferenceLine y={3.25} ifOverflow="visible" {...frameLine} />
      <ReferenceLine x={1.5} ifOverflow="visible" {...frameLine} />
      <Line data={toRows(cPani)} dataKey="y" type={catmull as any} stroke="#4a4a4a" strokeWidth={2.6} strokeDasharray="2 1.2" dot={false} activeDot={false} isAnimationActive={false} />
      <Line data={toRows(cPaniCnt)} dataKey="y" type={catmull as any} stroke="#ef3b3b" strokeWidth={2.4} dot={false} activeDot={false} isAnimationActive={false} />
      {arrow('c-red', 0.69, 1.16, 0.585, 0.64)}
      {arrow('c-ox', 0.64, -0.19, 0.87, -0.19)}
      {plainLabel('c-red-t', 0.6, 1.07, 'reduction', { rotate: -53, anchor: 'middle' })}
      {plainLabel('c-ox-t', 0.783, -0.53, 'oxidation', { anchor: 'middle' })}
      {eLabel('c-l1', -0.042, -0.86, 'pc1')}
      {eLabel('c-l2', 0.295, -0.86, 'pc2')}
      {plainLabel('c-letter', -0.615, -1.04, 'C', { bold: true, size: 22, color: BLUE })}
    </LineChart>
  );
}

function PanelD() {
  return (
    <LineChart width={561} height={435} margin={{ top: 28, right: 16, bottom: 30, left: 20 }}>
      <XAxis type="number" dataKey="x" domain={[-0.8, 1.6]} ticks={xTicksD} interval={0} tickSize={0} tickMargin={0} tickLine={false} tick={xTickD} axisLine={frameLine} height={40} allowDataOverflow />
      <YAxis type="number" domain={[-14, 22]} ticks={yTicksD} interval={0} tickSize={0} tickMargin={0} tickLine={false} tick={yTickD} axisLine={frameLine} width={60} allowDataOverflow />
      <ReferenceLine y={22} ifOverflow="visible" {...frameLine} />
      <ReferenceLine x={1.6} ifOverflow="visible" {...frameLine} />
      <Line data={toRows(dPaniCycle2)} dataKey="y" type={catmull as any} stroke="#1a1a1a" strokeWidth={2.6} strokeDasharray="2 2" dot={false} activeDot={false} isAnimationActive={false} />
      <Line data={toRows(dCntCycle2)} dataKey="y" type={catmull as any} stroke="#ee2424" strokeWidth={2.6} strokeDasharray="2 2" dot={false} activeDot={false} isAnimationActive={false} />
      <Line data={toRows(dPaniCycle5)} dataKey="y" type={catmull as any} stroke="#111111" strokeWidth={2.5} dot={false} activeDot={false} isAnimationActive={false} />
      <Line data={toRows(dCntCycle5)} dataKey="y" type={catmull as any} stroke="#f03a3a" strokeWidth={2} dot={false} activeDot={false} isAnimationActive={false} />
      {arrow('d-ox', 0.077, 2.7, 0.215, 8.06)}
      {arrow('d-red', 0.566, -2.33, 0.446, -5.37)}
      {leader('d-ld1', 1.25, 11.3, 1.35, 13.4, '#ee2424')}
      {leader('d-ld2', 1.21, 4.8, 1.31, 6.6, '#ee2424', '3 2')}
      {leader('d-ld3', 1.25, 2.7, 1.36, 1.43, '#1a1a1a')}
      {leader('d-ld4', 1.12, 0.18, 1.25, -1.97, '#1a1a1a')}
      {plainLabel('d-ox-t', 0.058, 6.45, 'oxidation', { rotate: -57, anchor: 'middle' })}
      {plainLabel('d-red-t', 0.588, -5.62, 'reduction', { rotate: -48, anchor: 'middle' })}
      {plainLabel('d-c5r', 1.267, 14.3, 'cycle 5', { color: '#ee2424' })}
      {plainLabel('d-c2r', 1.24, 7.3, 'cycle 2', { color: '#ee2424' })}
      {plainLabel('d-c5k', 1.267, -0.1, 'cycle 5')}
      {plainLabel('d-c2k', 1.258, -3.2, 'cycle 2')}
      {eLabel('d-l1', 0.28, 10.6, 'pa1')}
      {eLabel('d-l2', 1.1, 18.1, 'pa2')}
      {eLabel('d-l3', -0.375, -12.0, 'pc1')}
      {eLabel('d-l4', 0.16, -12.25, 'pc2')}
      {plainLabel('d-letter', -0.717, -12.0, 'D', { bold: true, size: 22, color: BLUE })}
    </LineChart>
  );
}

export default function App() {
  return (
    <div style={{ position: 'absolute', left: 0, top: 0, width: 1121, height: 870, background: '#ffffff', overflow: 'hidden', fontFamily: FONT }}>
      <div style={{ position: 'absolute', left: 0, top: 0 }}><PanelA /></div>
      <div style={{ position: 'absolute', left: 560, top: 0 }}><PanelB /></div>
      <div style={{ position: 'absolute', left: 0, top: 435 }}><PanelC /></div>
      <div style={{ position: 'absolute', left: 560, top: 435 }}><PanelD /></div>

      <XTitle cx={317} cy={413} />
      <XTitle cx={873} cy={413} />
      <XTitle cx={317} cy={854} />
      <XTitle cx={872} cy={854} />
      <YTitle cx={30} cy={188} />
      <YTitle cx={587} cy={191} />
      <YTitle cx={30} cy={633} />
      <YTitle cx={587} cy={631} />

      <LegendRow x={111} y={501} text="PANI/FTO" color="#4a4a4a" dash="2 2" width={2.6} />
      <LegendRow x={111} y={527} text="PANI-CNTs/FTO" color="#ef3b3b" width={2.4} />
      <LegendRow x={667} y={496} text="PANI/FTO" color="#111111" width={2.6} />
      <LegendRow x={667} y={522} text="PANI-CNTs/FTO" color="#f03a3a" width={2.2} />
    </div>
  );
}
